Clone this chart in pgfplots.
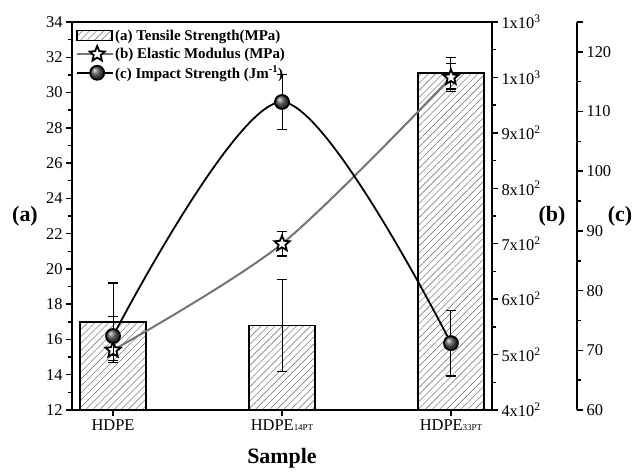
\documentclass[border=0pt]{standalone}
\usepackage{fontspec}
\setmainfont{Liberation Serif}
\usepackage{pgfplots}
\pgfplotsset{compat=1.18}
\usetikzlibrary{patterns,patterns.meta,plotmarks}

\pgfdeclareplotmark{pstar}{%
  \pgfpathmoveto{\pgfpointpolar{90}{\pgfplotmarksize}}%
  \pgfpathlineto{\pgfpointpolar{126}{0.45*\pgfplotmarksize}}%
  \pgfpathlineto{\pgfpointpolar{162}{\pgfplotmarksize}}%
  \pgfpathlineto{\pgfpointpolar{198}{0.45*\pgfplotmarksize}}%
  \pgfpathlineto{\pgfpointpolar{234}{\pgfplotmarksize}}%
  \pgfpathlineto{\pgfpointpolar{270}{0.45*\pgfplotmarksize}}%
  \pgfpathlineto{\pgfpointpolar{306}{\pgfplotmarksize}}%
  \pgfpathlineto{\pgfpointpolar{342}{0.45*\pgfplotmarksize}}%
  \pgfpathlineto{\pgfpointpolar{18}{\pgfplotmarksize}}%
  \pgfpathlineto{\pgfpointpolar{54}{0.45*\pgfplotmarksize}}%
  \pgfpathclose
  \pgfusepathqfillstroke}

\pgfplotsset{
  common/.style={
    at={(0,0)}, anchor=south west, scale only axis,
    width=420bp, height=388bp,
    xmin=-0.243, xmax=2.243,
    tick align=outside,
    major tick length=6bp, minor tick length=4bp,
    tick style={black, line width=1.5pt},
    minor tick style={black, line width=1.5pt},
    axis line style={line width=1.6pt},
    ticklabel style={font=\fontsize{16.5}{18}\selectfont},
    /pgf/number format/assume math mode=true,
  },
  ebar/.style={error bars/.cd, y dir=both, y explicit,
    error bar style={black, line width=1pt, solid},
    error mark options={rotate=90, mark size=5bp, black, line width=1.3pt}},
  linelegend/.style={legend image code/.code={
    \draw[##1, mark=none] (0bp,0bp) -- (36bp,0bp);
    \path[##1] plot coordinates {(20bp,0bp)};}},
  barlegend/.style={legend image code/.code={
    \draw[##1, line width=1.4pt] (0bp,-5bp) rectangle (35bp,5bp);}},
}

\begin{document}
\begin{tikzpicture}
\path[use as bounding box] (-72bp,-64bp) rectangle (564bp,410bp);

% axis (a): tensile strength bars
\begin{axis}[common,
  ymin=12, ymax=34,
  xtick={0,1,2},
  xticklabels={HDPE, HDPE{\fontsize{9}{10}\selectfont 14PT}, HDPE{\fontsize{9}{10}\selectfont 33PT}},
  xtick pos=lower, ytick pos=left,
  ytick={12,14,...,34}, minor y tick num=1,
  xlabel={Sample},
  xlabel style={font=\fontsize{22}{24}\selectfont\bfseries, at={(axis description cs:0.5,0)}, anchor=center, yshift=-48bp},
  ylabel={(a)},
  ylabel style={rotate=-90, font=\fontsize{22}{24}\selectfont\bfseries, at={(axis description cs:0,0.5)}, anchor=center, xshift=-47bp},
  legend style={at={(0,1)}, anchor=north west, draw=none, fill=none,
    inner xsep=1bp, inner ysep=3bp, xshift=3bp, yshift=-3bp,
    font=\fontsize{15}{17}\selectfont\bfseries, row sep=3bp,
    nodes={inner xsep=1bp, inner ysep=1.5bp}},
  legend cell align=left,
]
\addplot[ybar, bar width=66bp, bar shift=0pt, draw=black, line width=1.6pt,
  pattern={Lines[angle=45, distance=5bp, line width=0.6bp]}, pattern color=gray,
  barlegend, ebar]
  coordinates {(0,17.0) +- (0,2.2) (1,16.8) +- (0,2.6) (2,31.1) +- (0,0.9)};
\addlegendentry{(a) Tensile Strength(MPa)}
\addlegendimage{linelegend, black!55, line width=2pt, mark=pstar, mark size=8bp,
  mark options={draw=black, fill=white, line width=1.8pt, solid}}
\addlegendentry{(b) Elastic Modulus (MPa)}
\addlegendimage{linelegend, black, line width=1.8pt, mark=ball, mark size=7bp,
  mark options={ball color=black!65}}
\addlegendentry{(c) Impact Strength (Jm\textsuperscript{-1})}
\end{axis}

% axis (b): elastic modulus
\begin{axis}[common,
  ymin=400, ymax=1100,
  axis x line=none, axis y line*=right,
  ytick={400,500,...,1100}, minor y tick num=1,
  yticklabels={4x10\textsuperscript{2},5x10\textsuperscript{2},6x10\textsuperscript{2},7x10\textsuperscript{2},8x10\textsuperscript{2},9x10\textsuperscript{2},1x10\textsuperscript{3},1x10\textsuperscript{3}},
  ylabel={(b)},
  ylabel style={rotate=-90, font=\fontsize{22}{24}\selectfont\bfseries, at={(axis description cs:1,0.5)}, anchor=center, xshift=60bp},
]
\addplot[black!55, line width=2pt, smooth, mark=pstar, mark size=8bp,
  mark options={draw=black, fill=white, line width=1.8pt, solid}, ebar]
  coordinates {(0,508) +- (0,22) (1,700) +- (0,22) (2,1000) +- (0,25)};
\end{axis}

% axis (c) data: impact strength
\begin{axis}[common,
  ymin=60, ymax=125, hide x axis, hide y axis,
]
\addplot[black, line width=1.8pt, smooth, mark=ball, mark size=7bp,
  mark options={ball color=black!65}, ebar]
  coordinates {(0,72.4) +- (0,3.3) (1,111.6) +- (0,4.6) (2,71.2) +- (0,5.5)};
\end{axis}

% axis (c) offset scale
\begin{axis}[common, at={(85bp,0)},
  ymin=60, ymax=125,
  axis x line=none, axis y line*=right,
  ytick={60,70,...,120}, minor y tick num=1,
  extra y ticks={125}, extra y tick labels={},
  ylabel={(c)},
  ylabel style={rotate=-90, font=\fontsize{22}{24}\selectfont\bfseries, at={(axis description cs:1,0.5)}, anchor=center, xshift=43bp},
]
\end{axis}
\end{tikzpicture}
\end{document}
